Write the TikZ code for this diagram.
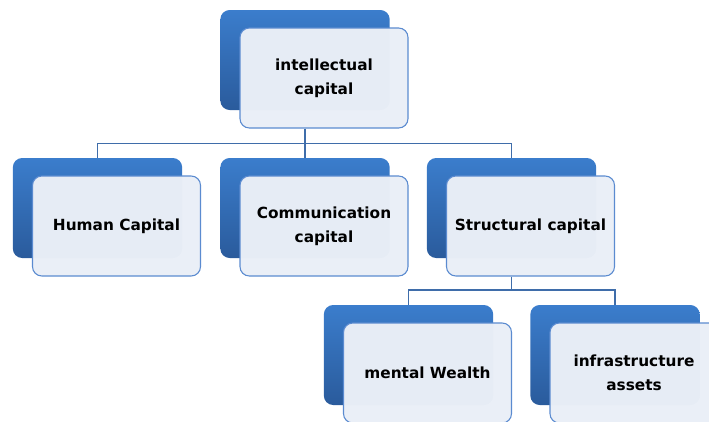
\documentclass[tikz,border=0pt]{standalone}
\usepackage{fontspec}
\setmainfont{DejaVu Sans}
\usetikzlibrary{positioning}

\definecolor{boxblue}{HTML}{3B7DCC}
\definecolor{boxdark}{HTML}{2A5B9C}
\definecolor{paneline}{HTML}{5B8BD0}
\definecolor{panefill}{HTML}{EAEFF7}
\definecolor{linkblue}{HTML}{3F6DAA}

\tikzset{
  backbox/.style={rectangle, rounded corners=7pt, inner sep=0pt,
    minimum width=127pt, minimum height=75pt,
    top color=boxblue, bottom color=boxdark},
  pane/.style={rectangle, rounded corners=7pt, draw=paneline, line width=0.8pt,
    fill=panefill, fill opacity=0.98, text opacity=1,
    minimum width=126pt, minimum height=75pt, align=center,
    font=\bfseries\fontsize{11.5}{18}\selectfont},
  link/.style={draw=linkblue, line width=1pt}
}

\begin{document}
\begin{tikzpicture}[x=0.75pt, y=-0.75pt]
        \useasboundingbox (0,0) rectangle (709,421);
        % back tiles
        \node[backbox] (intelback) at (305,60) {};
        \node[backbox] (humanback) at (97.5,208) {};
        \node[backbox] (commback) at (305,208) {};
        \node[backbox] (structback) at (511.5,208) {};
        \node[backbox] (mentalback) at (408.5,355) {};
        \node[backbox] (infraback) at (615,355) {};

        % front panes
        \node[pane] (intel) at (324,78) {intellectual\\capital};
        \node[pane] (human) at (116.5,226) {Human Capital};
        \node[pane] (comm) at (324,226) {Communication\\capital};
        \node[pane] (struct) at (530.5,226) {Structural capital};
        \node[pane] (mental) at (427.5,373) {mental Wealth};
        \node[pane] (infra) at (634,373) {infrastructure\\assets};

        % tree links
        \coordinate (busa) at (305,143.5);
        \coordinate (busb) at (511.5,290);
        \draw[link] (intelback.center |- intel.south) -- (busa);
        \foreach \n in {human,comm,struct} {
            \draw[link] (busa) -| (\n back.north);
        }
        \draw[link] (structback.center |- struct.south) -- (busb);
        \foreach \n in {mental,infra} {
            \draw[link] (busb) -| (\n back.north);
        }
    \end{tikzpicture}
\end{document}
